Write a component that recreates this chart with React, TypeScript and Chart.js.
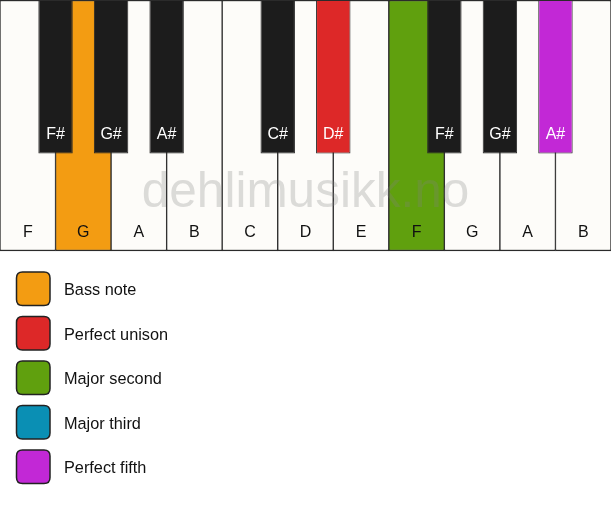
import { useEffect, useRef } from 'react';
import { Chart, registerables } from 'chart.js';

Chart.register(...registerables);

// ---- data ----
const whiteNotes = ['F', 'G', 'A', 'B', 'C', 'D', 'E', 'F', 'G', 'A', 'B'];
const whiteRoles = ['', 'bass', '', '', '', '', '', 'second', '', '', ''];
const blackNotes = ['F#', 'G#', 'A#', 'C#', 'D#', 'F#', 'G#', 'A#'];
const blackPositions = [1, 2, 3, 5, 6, 8, 9, 10];
const blackRoles = ['', '', '', '', 'unison', '', '', 'fifth'];
const legendLabels = ['Bass note', 'Perfect unison', 'Major second', 'Major third', 'Perfect fifth'];
const legendRoles = ['bass', 'unison', 'second', 'third', 'fifth'];
const watermark = 'dehlimusikk.no';

// ---- styles ----
const roleColors: Record<string, string> = {
  bass: '#F39C12',
  unison: '#DD2828',
  second: '#60A00E',
  third: '#0A8FB4',
  fifth: '#C228D6',
};
const WHITE = '#FDFCF9';
const BLACK = '#1C1C1C';
const OUTLINE = '#2B2B2B';
const WHITE_LEN = 250;
const BLACK_LEN = 153;
const WHITE_LABEL_Y = 232;
const BLACK_LABEL_Y = 134;
const FONT = '"Liberation Sans", Arial, sans-serif';

const W = 611;
const H = 506;

const keyLabels = {
  id: 'keyLabels',
  afterDatasetsDraw(chart: any) {
    const ctx = chart.ctx as CanvasRenderingContext2D;
    const y = chart.scales.y;
    ctx.save();
    ctx.textAlign = 'center';
    ctx.textBaseline = 'middle';
    ctx.font = `16px ${FONT}`;
    const wMeta = chart.getDatasetMeta(1);
    wMeta.data.forEach((el: any, i: number) => {
      ctx.fillStyle = '#111111';
      ctx.fillText(whiteNotes[i], el.x, y.getPixelForValue(WHITE_LABEL_Y));
    });
    const bMeta = chart.getDatasetMeta(0);
    bMeta.data.forEach((el: any, i: number) => {
      ctx.fillStyle = '#FFFFFF';
      ctx.fillText(blackNotes[i], el.x, y.getPixelForValue(BLACK_LABEL_Y));
    });
    // watermark
    ctx.font = `49.5px ${FONT}`;
    ctx.fillStyle = 'rgba(128,128,128,0.27)';
    const xs = chart.scales.xw;
    ctx.fillText(watermark, (xs.left + xs.right) / 2, y.getPixelForValue(193));
    ctx.restore();
  },
  afterDraw(chart: any) {
    const ctx = chart.ctx as CanvasRenderingContext2D;
    ctx.save();
    const bx = 16.5;
    const top = 272;
    const step = 44.5;
    const size = 33.5;
    const r = 6;
    legendLabels.forEach((label, i) => {
      const yy = top + i * step;
      ctx.beginPath();
      ctx.moveTo(bx + r, yy);
      ctx.lineTo(bx + size - r, yy);
      ctx.quadraticCurveTo(bx + size, yy, bx + size, yy + r);
      ctx.lineTo(bx + size, yy + size - r);
      ctx.quadraticCurveTo(bx + size, yy + size, bx + size - r, yy + size);
      ctx.lineTo(bx + r, yy + size);
      ctx.quadraticCurveTo(bx, yy + size, bx, yy + size - r);
      ctx.lineTo(bx, yy + r);
      ctx.quadraticCurveTo(bx, yy, bx + r, yy);
      ctx.closePath();
      ctx.fillStyle = roleColors[legendRoles[i]];
      ctx.fill();
      ctx.lineWidth = 1.5;
      ctx.strokeStyle = '#222222';
      ctx.stroke();
      ctx.fillStyle = '#111111';
      ctx.font = `16.3px ${FONT}`;
      ctx.textAlign = 'left';
      ctx.textBaseline = 'middle';
      ctx.fillText(label, 64, yy + size / 2 + 2);
    });
    ctx.restore();
  },
};

export default function App() {
  const ref = useRef<HTMLCanvasElement>(null);
  useEffect(() => {
    if (!ref.current) return;
    const chart = new Chart(ref.current, {
      type: 'bar',
      data: {
        datasets: [
          {
            label: 'Black keys',
            xAxisID: 'xb',
            order: 0,
            data: blackPositions.map((p) => ({ x: p, y: [0, BLACK_LEN] })) as any,
            backgroundColor: blackRoles.map((r) => (r ? roleColors[r] : BLACK)),
            borderColor: OUTLINE,
            borderWidth: 1,
            borderSkipped: false,
            barPercentage: 0.62,
            categoryPercentage: 1,
            grouped: false,
            clip: false as any,
          },
          {
            label: 'White keys',
            xAxisID: 'xw',
            order: 1,
            data: whiteNotes.map((_, i) => ({ x: i + 0.5, y: [0, WHITE_LEN] })) as any,
            backgroundColor: whiteRoles.map((r) => (r ? roleColors[r] : WHITE)),
            borderColor: OUTLINE,
            borderWidth: { top: 1.5, bottom: 1.5, left: 1, right: 1 } as any,
            borderSkipped: false,
            barPercentage: 1,
            categoryPercentage: 1,
            grouped: false,
            clip: false as any,
          },
        ],
      },
      options: {
        animation: false,
        responsive: false,
        devicePixelRatio: 1,
        layout: { padding: { top: 0, left: 0, right: 0, bottom: H - WHITE_LEN - 1 } },
        plugins: { legend: { display: false }, tooltip: { enabled: false } },
        events: [],
        scales: {
          xw: { type: 'linear', offset: false, min: 0, max: whiteNotes.length, display: false, ticks: { stepSize: 1 } },
          xb: { type: 'linear', offset: false, min: 0, max: whiteNotes.length, display: false, ticks: { stepSize: 1 } },
          y: { type: 'linear', min: 0, max: WHITE_LEN, reverse: true, display: false },
        },
      },
      plugins: [keyLabels],
    });
    return () => chart.destroy();
  }, []);
  return (
    <canvas
      ref={ref}
      width={W}
      height={H}
      style={{ position: 'absolute', left: 0, top: 0, width: W, height: H, background: '#FFFFFF' }}
    />
  );
}
